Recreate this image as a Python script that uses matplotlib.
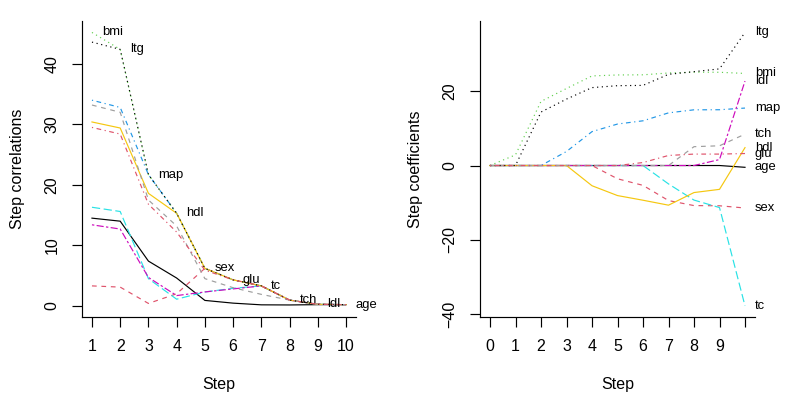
import matplotlib
matplotlib.use("Agg")
import matplotlib.pyplot as plt

plt.rcParams['font.family'] = ['Liberation Sans', 'DejaVu Sans']

variables = ["age", "sex", "bmi", "map", "tc", "ldl", "hdl", "tch", "ltg", "glu"]
colors = ["#000000", "#DF536B", "#61D04F", "#2297E6", "#28E2E5",
          "#CD0BBC", "#F5C710", "#9E9E9E", "#000000", "#DF536B"]
dash_patterns = [None, (4, 4), (1, 3), (1, 3, 4, 3), (7, 3), (2, 2, 6, 2),
                 None, (4, 4), (1, 3), (1, 3, 4, 3)]

# Left panel: step correlations (steps 1..10)
corr_steps = [1, 2, 3, 4, 5, 6, 7, 8, 9, 10]
corr_age = [14.5, 14.0, 7.4, 4.6, 0.9, 0.45, 0.17, 0.15, 0.2, 0.2]
corr_sex = [3.3, 3.1, 0.4, 2.0, 6.2, 4.3, 3.3, 0.95, 0.26, 0.2]
corr_bmi = [45.2, 42.4, 21.7, 15.3, 6.2, 4.3, 3.3, 0.95, 0.26, 0.2]
corr_map = [34.0, 32.8, 21.7, 15.3, 6.2, 4.3, 3.3, 0.95, 0.26, 0.2]
corr_tc = [16.3, 15.6, 4.5, 1.1, 2.3, 2.9, 3.3, 0.95, 0.26, 0.2]
corr_ldl = [13.4, 12.7, 4.7, 1.7, 2.3, 2.8, 3.3, 0.95, 0.26, 0.2]
corr_hdl = [30.4, 29.4, 18.6, 15.3, 6.2, 4.3, 3.3, 0.95, 0.26, 0.2]
corr_tch = [33.2, 32.0, 17.5, 13.2, 4.5, 3.0, 1.9, 0.95, 0.26, 0.2]
corr_ltg = [43.6, 42.4, 21.7, 15.3, 6.2, 4.3, 3.3, 0.95, 0.26, 0.2]
corr_glu = [29.5, 28.4, 16.8, 12.2, 5.9, 4.3, 3.3, 0.95, 0.26, 0.2]
corr_all = [corr_age, corr_sex, corr_bmi, corr_map, corr_tc,
            corr_ldl, corr_hdl, corr_tch, corr_ltg, corr_glu]
entry_step = [10, 5, 1, 3, 7, 9, 4, 8, 2, 6]

# Right panel: step coefficients (steps 0..10)
coef_steps = [0, 1, 2, 3, 4, 5, 6, 7, 8, 9, 10]
coef_age = [0, 0, 0, 0, 0, 0, 0, 0, 0, 0, -0.48]
coef_sex = [0, 0, 0, 0, 0, -3.56, -5.33, -9.41, -10.76, -10.81, -11.41]
coef_bmi = [0, 2.86, 17.22, 20.69, 24.06, 24.32, 24.36, 24.85, 25.07, 25.04, 24.73]
coef_map = [0, 0, 0, 3.77, 9.10, 11.14, 12.01, 14.14, 14.96, 14.98, 15.43]
coef_tc = [0, 0, 0, 0, 0, 0, 0, -4.94, -9.28, -11.29, -37.69]
coef_ldl = [0, 0, 0, 0, 0, 0, 0, 0, 0, 1.60, 22.68]
coef_hdl = [0, 0, 0, 0, -5.43, -8.07, -9.32, -10.65, -7.26, -6.40, 4.81]
coef_tch = [0, 0, 0, 0, 0, 0, 0, 0, 5.06, 5.30, 8.43]
coef_ltg = [0, 0, 14.36, 17.84, 20.92, 21.44, 21.52, 24.49, 25.21, 25.95, 35.74]
coef_glu = [0, 0, 0, 0, 0, 0, 0.8, 2.7, 3.07, 3.07, 3.22]
coef_all = [coef_age, coef_sex, coef_bmi, coef_map, coef_tc,
            coef_ldl, coef_hdl, coef_tch, coef_ltg, coef_glu]

left_yticks = [0, 10, 20, 30, 40]
left_xticks = [1, 2, 3, 4, 5, 6, 7, 8, 9, 10]
right_yticks = [-40, -20, 0, 20]
right_xticks = [0, 1, 2, 3, 4, 5, 6, 7, 8, 9, 10]
right_xticklabels = ["0", "1", "2", "3", "4", "5", "6", "7", "8", "9", ""]

W, H = 797, 399
fig = plt.figure(figsize=(W / 100, H / 100), dpi=100)

def px_axes(x0, x1, y0, y1):
    return fig.add_axes([x0 / W, 1 - y1 / H, (x1 - x0) / W, (y1 - y0) / H])

ax1 = px_axes(81.8, 356.2, 21.5, 316.8)
ax2 = px_axes(479.8, 755.2, 21.5, 316.8)

LW = 0.85
FS = 11.5
LFS = 9.4

def draw(ax, xs, series):
    for i, ys in enumerate(series):
        ls = '-' if dash_patterns[i] is None else (0, dash_patterns[i])
        ax.plot(xs, ys, color=colors[i], lw=LW, linestyle=ls, zorder=2 + i * 0.01,
                dash_capstyle='butt', solid_joinstyle='round')

def style(ax):
    for s in ['top', 'right']:
        ax.spines[s].set_visible(False)
    for s in ['left', 'bottom']:
        ax.spines[s].set_linewidth(LW)
    ax.tick_params(direction='out', length=7.2, width=LW, labelsize=FS, pad=9)
    for lab in ax.get_yticklabels():
        lab.set_rotation(90)
        lab.set_va('center')

draw(ax1, corr_steps, corr_all)
lo, hi = 0.0, max(max(c) for c in corr_all)
pad = 0.04 * (hi - lo)
ax1.set_ylim(lo - pad, hi + pad)
ax1.set_xlim(1 - 0.36, 10 + 0.36)
ax1.set_xticks(left_xticks)
ax1.set_yticks(left_yticks)
style(ax1)
ax1.set_xlabel("Step", fontsize=FS, labelpad=16)
ax1.set_ylabel("Step correlations", fontsize=FS, labelpad=14)
for i, v in enumerate(variables):
    k = entry_step[i]
    ax1.annotate(v, (k, corr_all[i][k - 1]), xytext=(7, 0), textcoords='offset points',
                 ha='left', va='center', fontsize=LFS)

draw(ax2, coef_steps, coef_all)
lo = min(min(c) for c in coef_all)
hi = max(max(c) for c in coef_all)
pad = 0.04 * (hi - lo)
ax2.set_ylim(lo - pad, hi + pad)
ax2.set_xlim(-0.4, 10.4)
ax2.set_xticks(right_xticks)
ax2.set_xticklabels(right_xticklabels)
ax2.set_yticks(right_yticks)
style(ax2)
ax2.set_xlabel("Step", fontsize=FS, labelpad=16)
ax2.set_ylabel("Step coefficients", fontsize=FS, labelpad=14)
for i, v in enumerate(variables):
    ax2.annotate(v, (10, coef_all[i][-1]), xytext=(7, 0), textcoords='offset points',
                 ha='left', va='center', fontsize=LFS, annotation_clip=False)

fig.savefig("out.png", dpi=100)
